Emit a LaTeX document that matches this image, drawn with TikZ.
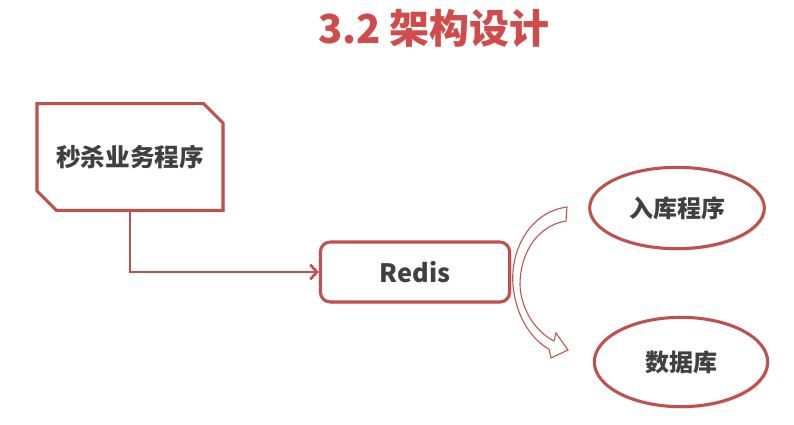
\documentclass[tikz,border=0pt]{standalone}
\usepackage{fontspec}
\setmainfont{Noto Sans CJK SC}
\usepackage{tikz}
\usetikzlibrary{shapes.geometric, shapes.misc, arrows.meta, shadows, positioning}
\definecolor{accent}{HTML}{C0504D}
\definecolor{titlered}{HTML}{D24B4B}
\definecolor{textgray}{HTML}{404040}
\tikzstyle{shade} = [drop shadow={opacity=0.2, shadow xshift=1.5pt, shadow yshift=-1.5pt}]
\tikzstyle{snipbox} = [chamfered rectangle, chamfered rectangle corners={north east, south west}, chamfered rectangle xsep=7pt, chamfered rectangle ysep=7.5pt, line width=2.3pt, draw=accent, fill=white, minimum width=139.5pt, minimum height=80pt, text=textgray, font=\bfseries\fontsize{18.5pt}{21pt}\selectfont, shade]
\tikzstyle{block} = [rectangle, rounded corners=7.5pt, line width=2.3pt, draw=accent, fill=white, minimum width=142pt, minimum height=45pt, text=textgray, font=\bfseries\fontsize{19pt}{22pt}\selectfont, shade]
\tikzstyle{store} = [ellipse, line width=2.3pt, draw=accent, fill=white, inner sep=0pt, text=textgray, font=\bfseries\fontsize{18pt}{21pt}\selectfont, shade]
\tikzstyle{arrow} = [line width=2pt, draw=accent, ->, >={Straight Barb[length=5pt, width=11pt]}]

\begin{document}
\begin{tikzpicture}[x=0.75pt, y=-0.75pt]
		\useasboundingbox (0,0) rectangle (794,425);
		\node (Title) [text=titlered, font=\bfseries\fontsize{30pt}{33pt}\selectfont] at (434,28) {3.2 架构设计};
		
		\node (Seckill) [snipbox] at (130,157) {秒杀业务程序};
		\node (Redis) [block] at (415,272) {Redis};
		\node (Storer) [store, minimum width=131pt, minimum height=61pt] at (677,208) {入库程序};
		\node (Database) [store, minimum width=130pt, minimum height=67pt] at (681,362) {数据库};
		
		\draw [arrow] (Seckill.south) |- (Redis.west);
		
		% hollow curved arrow between Redis and the two ellipses
		\draw [draw=accent, fill=white, line width=0.8pt, line join=miter]
		(567,207) .. controls (530,212) and (510,250) .. (513,285)
		.. controls (516,320) and (535,342) .. (549,349)
		-- (551,358) -- (568,350) -- (556,333) -- (554,341)
		.. controls (538,333) and (521,312) .. (520,285)
		.. controls (520,250) and (540,225) .. (566,221) -- cycle;
\end{tikzpicture}
\end{document}
